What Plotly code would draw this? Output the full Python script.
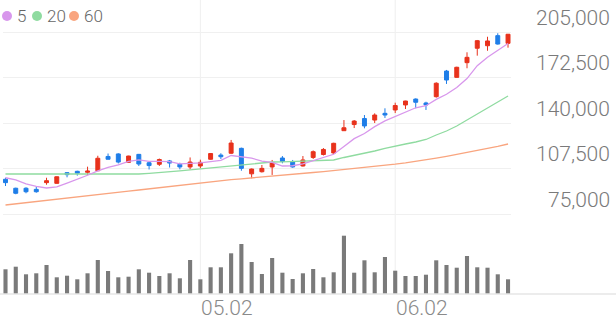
import plotly.graph_objects as go

# ---------------- data ----------------
idx = list(range(50))
opens = [99800, 93400, 93400, 92600, 97400, 96900, 104500, 105500, 104800, 105900,
         116100, 117900, 111900, 117600, 111600, 110500, 112900, 110500, 108600, 109300,
         114100, 117100, 118400, 121900, 103700, 105200, 108600, 115000, 112100, 109300,
         115400, 117500, 118600, 134500, 138900, 143200, 142100, 146900, 149300, 152900,
         157100, 154300, 158800, 177100, 172600, 183100, 193400, 195200, 202400, 196900]
highs = [100900, 93800, 94100, 94300, 100900, 101800, 105000, 105900, 108800, 116600,
         118200, 118400, 116600, 117900, 112400, 114600, 113600, 111600, 115400, 113800,
         118500, 118400, 127900, 122400, 107500, 110000, 113600, 116400, 113600, 116400,
         120400, 122100, 125900, 142100, 142100, 145700, 146900, 150500, 154500, 155900,
         157600, 155200, 169100, 177900, 180200, 190500, 199300, 201600, 204100, 203600]
lows = [95000, 89100, 89800, 90200, 95900, 96700, 101200, 102400, 102900, 105700,
        114000, 111100, 111700, 109300, 106800, 109300, 108200, 106900, 106900, 107600,
        113800, 114300, 117900, 105900, 100500, 104600, 102900, 111200, 108100, 108900,
        114300, 116800, 117900, 134300, 136400, 136200, 140000, 143600, 147100, 150000,
        150500, 149300, 158100, 167900, 172400, 179100, 188100, 191600, 196000, 193800]
closes = [97400, 89800, 90900, 90900, 98800, 101600, 103100, 104100, 105700, 114800,
          114100, 112100, 116400, 110700, 109600, 113900, 111400, 108600, 112100, 111900,
          118200, 115900, 125700, 107600, 107100, 107600, 111600, 112500, 108600, 113600,
          119500, 121100, 125500, 136600, 141400, 137900, 145700, 145700, 152500, 155700,
          154800, 152900, 168400, 170700, 179800, 186900, 198800, 198600, 196400, 203400]
ma5 = [100900, 99300, 96600, 94800, 93560, 94400, 97060, 99700, 102660, 105860,
       108360, 110160, 112620, 113620, 112580, 112540, 112400, 110840, 111120, 111580,
       112440, 113340, 116760, 115860, 114900, 112780, 111920, 109280, 109480, 110780,
       113160, 115060, 117660, 123260, 128820, 132500, 137420, 141460, 144640, 147500,
       150880, 152320, 156860, 160500, 165320, 171740, 180920, 186960, 192100, 196820]
ma20 = [103570, 103570, 103570, 103570, 103430, 103360, 103360, 103290, 103210, 103140,
        103070, 103070, 103210, 103570, 104070, 104500, 105140, 105860, 106570, 107290,
        108000, 108790, 109650, 110360, 111070, 111640, 112140, 112290, 112500, 112710,
        113000, 113210, 113570, 115360, 116790, 118570, 120000, 121930, 123210, 125000,
        126430, 128210, 131430, 134290, 137860, 142140, 146790, 151070, 155360, 159290]
ma60 = [81430, 82210, 83070, 83930, 84710, 85500, 86360, 87140, 87930, 88790,
        89640, 90500, 91290, 92140, 93000, 93860, 94710, 95640, 96500, 97360,
        98140, 98860, 99500, 100140, 100710, 101360, 102000, 102640, 103290, 104000,
        104640, 105290, 106000, 106710, 107430, 108140, 108930, 109710, 110570, 111500,
        112500, 113640, 114860, 116140, 117500, 118930, 120360, 121790, 123360, 125000]
volumes = [247000, 273000, 197000, 207000, 290000, 167000, 183000, 147000, 207000, 340000,
           230000, 167000, 173000, 247000, 213000, 180000, 207000, 157000, 340000, 147000,
           267000, 267000, 407000, 500000, 320000, 200000, 360000, 213000, 150000, 207000,
           250000, 167000, 217000, 583000, 213000, 337000, 217000, 370000, 233000, 180000,
           180000, 193000, 337000, 290000, 263000, 380000, 267000, 263000, 197000, 147000]
price_ticks = [75000, 107500, 140000, 172500, 205000]
date_tick_pos = [19, 38]
date_tick_labels = ["05.02", "06.02"]
ma_names = ["5", "20", "60"]
ma_colors = ["#d897ec", "#8fdba0", "#f9a57f"]

# ---------------- figure ----------------
W, H = 616, 321
def px_y(p):
    return 1 - p / H

fig = go.Figure()
fig.add_trace(go.Candlestick(
    x=idx, open=opens, high=highs, low=lows, close=closes,
    increasing=dict(line=dict(color="#e8321c", width=1), fillcolor="#e8321c"),
    decreasing=dict(line=dict(color="#1f7ee8", width=1), fillcolor="#1f7ee8"),
    whiskerwidth=0, xaxis="x", yaxis="y", showlegend=False, hoverinfo="skip"))
for vals, col in zip([ma60, ma20, ma5], [ma_colors[2], ma_colors[1], ma_colors[0]]):
    fig.add_trace(go.Scatter(x=idx, y=vals, mode="lines",
                             line=dict(color=col, width=1.3),
                             xaxis="x", yaxis="y", showlegend=False, hoverinfo="skip"))
fig.add_trace(go.Bar(x=idx, y=volumes, marker=dict(color="#7a7a7a", line=dict(width=0)),
                     xaxis="x2", yaxis="y2", showlegend=False, hoverinfo="skip"))

xdom = [3 / W, 511 / W]
xr = [-0.244, 49.29]
fig.update_layout(
    width=W, height=H, margin=dict(l=0, r=0, t=0, b=0),
    paper_bgcolor="white", plot_bgcolor="white",
    boxgap=0.45, bargap=0.6,
    xaxis=dict(domain=xdom, range=xr, showticklabels=False, showgrid=False,
               zeroline=False, rangeslider=dict(visible=False), anchor="y"),
    yaxis=dict(domain=[px_y(216), 1], range=[73569, 227858], tickvals=price_ticks,
               showticklabels=False, gridcolor="#f0f0f0", gridwidth=1,
               zeroline=False, side="right", anchor="x"),
    xaxis2=dict(domain=xdom, range=xr, showticklabels=False, showgrid=False,
                zeroline=False, anchor="y2"),
    yaxis2=dict(domain=[px_y(294), px_y(230)], range=[0, 640000], showgrid=False,
                showticklabels=False, zeroline=False, anchor="x2"),
    font=dict(family="Roboto", color="#777777"),
)

shapes = []
# vertical date gridlines
for p in date_tick_pos:
    shapes.append(dict(type="line", xref="x", yref="paper", x0=p, x1=p,
                       y0=px_y(294), y1=1, line=dict(color="#efefef", width=1), layer="below"))
# volume baseline
shapes.append(dict(type="line", xref="paper", yref="paper", x0=0, x1=1,
                   y0=px_y(294), y1=px_y(294), line=dict(color="#e6e6e6", width=1.5)))
# legend dots
dot_cx = [7, 37, 74]
for cx, col in zip(dot_cx, ma_colors):
    shapes.append(dict(type="circle", xref="paper", yref="paper",
                       x0=(cx - 5) / W, x1=(cx + 5) / W, y0=px_y(21), y1=px_y(11),
                       fillcolor=col, line=dict(width=0)))
fig.update_layout(shapes=shapes)

ann = []
for v in price_ticks:
    ann.append(dict(text=f"{v:,}", x=612 / W, xref="paper", y=v, yref="y",
                    xanchor="right", yanchor="middle", yshift=14.5, showarrow=False,
                    font=dict(family="Roboto", size=21, color="#7a7a7a", weight=300)))
for p, lab in zip(date_tick_pos, date_tick_labels):
    ann.append(dict(text=lab, x=p, xref="x2", y=px_y(308), yref="paper",
                    xanchor="left", yanchor="middle", xshift=-1, showarrow=False,
                    font=dict(family="Roboto", size=21, color="#8a8a8a", weight=300)))
legend_tx = [15, 45, 82]
for tx, name in zip(legend_tx, ma_names):
    ann.append(dict(text=name, x=tx / W, xref="paper", y=px_y(16), yref="paper",
                    xanchor="left", yanchor="middle", showarrow=False,
                    font=dict(family="Roboto", size=17, color="#666666", weight=300)))
fig.update_layout(annotations=ann)

fig.write_html("out.html")
